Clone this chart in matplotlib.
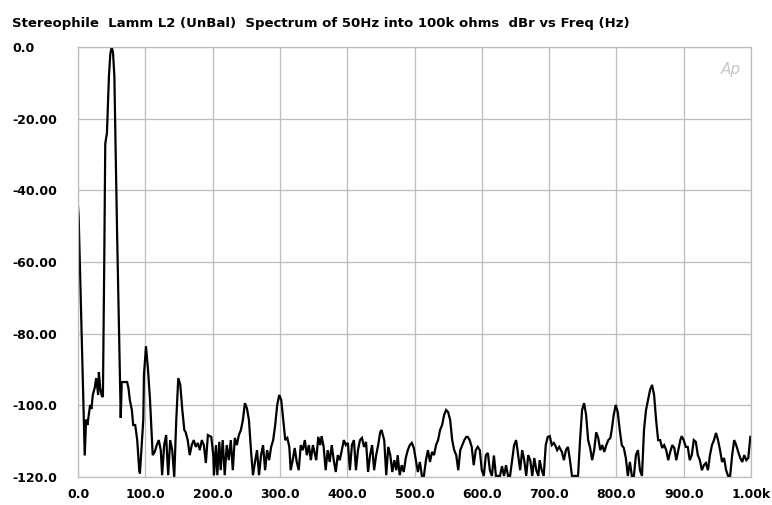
import matplotlib
matplotlib.use("Agg")
import matplotlib.pyplot as plt
import numpy as np

title = "Stereophile  Lamm L2 (UnBal)  Spectrum of 50Hz into 100k ohms  dBr vs Freq (Hz)"

freq_hz = [0, 1, 10, 12, 14, 18, 20, 22, 25, 27, 30, 31, 33, 35, 37, 39, 40.5, 43, 46, 48, 50, 52, 54, 56, 58, 61, 63.5,
           65, 73, 75, 77, 80, 82, 85, 88, 91, 92, 97, 98, 101, 104, 107, 110, 111, 114, 117, 120, 123, 125, 128, 131,
           132, 134, 137, 140, 143, 146, 149, 152, 155, 158, 160, 163, 166, 169, 172, 175, 178, 181, 184, 187, 190,
           193, 198, 201, 202, 205, 207, 210, 212, 215, 218, 221, 224, 227, 230, 233, 236, 239, 242, 245, 248, 251,
           254, 257, 260, 263, 266, 269, 272, 275, 278, 281, 284, 287, 290, 293, 296, 299, 302, 305, 308, 311, 314,
           316, 319, 322, 325, 328, 331, 334, 337, 340, 343, 346, 349, 354, 357, 360, 362, 365, 368, 371, 374, 377,
           380, 383, 386, 389, 392, 395, 398, 401, 404, 407, 410, 413, 416, 419, 422, 425, 428, 431, 434, 437, 440,
           443, 446, 449, 451, 455, 458, 461, 464, 467, 470, 473, 475, 478, 481, 484, 487, 490, 493, 496, 499, 502,
           505, 508, 511, 514, 517, 520, 523, 526, 529, 532, 535, 538, 541, 544, 547, 550, 553, 556, 559, 562, 565,
           568, 571, 574, 577, 579, 582, 585, 588, 591, 594, 597, 600, 603, 606, 609, 612, 615, 618, 621, 624, 627,
           630, 633, 636, 639, 642, 645, 648, 651, 654, 657, 660, 663, 666, 669, 672, 675, 678, 681, 684, 686, 689,
           692, 695, 698, 701, 704, 707, 709, 712, 715, 719, 722, 725, 728, 731, 734, 738, 743, 746, 749, 752, 755,
           758, 761, 764, 767, 770, 773, 776, 779, 782, 785, 788, 791, 793, 796, 799, 802, 805, 808, 811, 814, 817,
           820, 823, 826, 829, 832, 835, 838, 841, 844, 847, 850, 853, 856, 859, 862, 865, 868, 871, 874, 877, 880,
           883, 886, 889, 892, 895, 897, 900, 903, 906, 909, 912, 915, 918, 921, 924, 927, 930, 933, 936, 939, 942,
           945, 948, 951, 954, 957, 960, 963, 966, 969, 972, 975, 978, 981, 984, 987, 990, 993, 996, 999]

level_dbr = [-44.6, -47.5, -114, -104, -105.5, -99.9, -101, -97.1, -95, -92.4, -97.1, -90.7, -95.2, -97.1, -97.7, -60,
             -27, -24, -8, -2, 0, -1.5, -8, -30, -51, -80, -103.5,
             -93.5, -93.5, -95.2, -98.5, -101.3, -105.5, -105.5, -109.7, -118.1, -119, -104.1, -91.5, -83.5, -90,
             -98.5, -109.7, -113.9, -113.0, -111.1, -109.7, -112.5, -119.5, -111.1, -108.3,
             -112.5, -119.5, -109.7, -112.5, -120, -104.1, -92.4, -94.3, -101.3, -106.9, -107.5, -109.7, -113.9,
             -111.1, -109.7, -111.6, -110.5, -112.5, -109.7, -111.1, -116.1,
             -108.3, -108.8, -113.9, -119.5, -111.1, -119.5, -110.2, -118.1, -109.7, -119.5, -111.1, -115.3, -109.7,
             -118.1, -109.1, -111.1, -108.3, -106.9, -104.1, -99.4, -100.8,
             -104.1, -112.5, -119.5, -115.8, -112.5, -119.5, -113.9, -111.1, -118.1, -112.5, -115.3, -111.6, -109.7,
             -105.5, -99.9, -97.1, -98.5, -104.1, -109.7, -109.1, -111.6,
             -118.1, -115.3, -111.9, -115.8, -118.1, -111.1, -112.5, -109.7, -113.9, -111.1, -115.3, -111.1, -115.3,
             -108.8, -111.1, -108.6, -111.6, -118.1, -112.5, -115.8, -111.1,
             -115.3, -118.6, -113.9, -115.3, -112.5, -109.7, -111.1, -110.5, -118.1, -111.1, -109.7, -118.1, -112.5,
             -109.7, -109.1, -111.6, -110.2, -118.6, -113.9, -111.1, -118.1,
             -113.9, -111.1, -107.5, -106.9, -109.7, -119.5, -111.6, -113.9, -118.6, -115.3, -118.1, -113.9, -119.5,
             -116.7, -118.6, -114.7, -112.5, -111.1, -110.5, -111.9, -115.3,
             -118.6, -115.8, -119.7, -119.7, -115.3, -112.5, -115.8, -113.0, -113.9, -111.1, -109.7, -106.9, -105.5,
             -102.7, -101.3, -101.9, -104.1, -109.7, -112.5, -113.9, -118.1,
             -112.5, -111.1, -109.7, -108.8, -108.8, -109.7, -111.6, -116.7, -112.5, -111.6, -112.5, -118.1, -119.7,
             -113.9, -113.3, -118.1, -119.7, -114, -119.7, -119.7, -119.7,
             -117, -119.7, -116.7, -119.7, -119.7, -115.3, -111.1, -109.7, -113.9, -118.1, -112.5, -115.3, -119.7,
             -113.9, -115.3, -119.7, -114.7, -118.1, -119.7, -115.3, -118.1,
             -119.7, -111.1, -108.8, -108.6, -111.1, -110.5, -111.1, -112.5, -111.6, -113.0, -115.3, -112.5, -111.6,
             -115.3, -119.7, -119.7, -119.7, -109.7, -101.3, -99.4, -102.7,
             -109.7, -111.9, -115.3, -112.5, -107.5, -109.1, -112.5, -111.1, -113.0, -111.1, -109.7, -109.1, -106.9,
             -102.7, -99.9, -101.9, -106.9, -111.1, -111.9, -114.7, -119.7,
             -115.8, -119.7, -119.7, -113.9, -112.5, -118.1, -119.7, -106.9, -101.3, -98.5, -95.7, -94.3, -97.1,
             -104.1, -109.7, -109.7, -111.9, -111.1, -112.5, -115.3, -113.0,
             -111.1, -111.9, -115.3, -112.5, -109.7, -108.6, -109.7, -111.6, -111.6, -115.3, -113.9, -109.7, -110.2,
             -113.9, -115.3, -118.1, -116.7, -116.1, -118.1, -113.9, -111.1,
             -109.7, -107.7, -109.7, -112.5, -115.8, -114.7, -118.1, -119.7, -119.7, -113.9, -109.7, -111.1, -113.0,
             -114.7, -115.8, -113.9, -115.3, -114.7, -108.8]

x_ticks = [0, 100, 200, 300, 400, 500, 600, 700, 800, 900, 1000]
x_tick_labels = ["0.0", "100.0", "200.0", "300.0", "400.0", "500.0", "600.0", "700.0", "800.0", "900.0", "1.00k"]
y_ticks = [0, -20, -40, -60, -80, -100, -120]
y_tick_labels = ["0.0", "-20.00", "-40.00", "-60.00", "-80.00", "-100.0", "-120.0"]

plt.rcParams['font.family'] = ['DejaVu Sans']

fig = plt.figure(figsize=(7.72, 5.05), dpi=100)
ax = fig.add_axes([78/772, 1 - 477/505, (751 - 78)/772, (477 - 47)/505])

ax.plot(freq_hz, level_dbr, color='black', lw=1.6, solid_joinstyle='miter', clip_on=True)

ax.set_xlim(0, 1000)
ax.set_ylim(-120, 0)
ax.set_xticks(x_ticks)
ax.set_xticklabels(x_tick_labels, fontsize=9, fontweight='bold')
ax.set_yticks(y_ticks)
ax.set_yticklabels(y_tick_labels, fontsize=9, fontweight='bold')
for lab in ax.get_yticklabels():
    lab.set_horizontalalignment('left')
ax.tick_params(axis='y', length=0, pad=47.5)
ax.tick_params(axis='x', length=0, pad=8)

ax.grid(True, color='#bdbdbd', lw=0.9)
for s in ax.spines.values():
    s.set_color('#bdbdbd')
    s.set_linewidth(0.9)

fig.text(12/772, 1 - 24/505, title, fontsize=9.5, fontweight='bold', ha='left', va='center')
ax.text(0.985, 0.965, "Ap", transform=ax.transAxes, fontsize=11, fontstyle='italic',
        color='#c8c8c8', ha='right', va='top')

fig.savefig("out.png", dpi=100)
